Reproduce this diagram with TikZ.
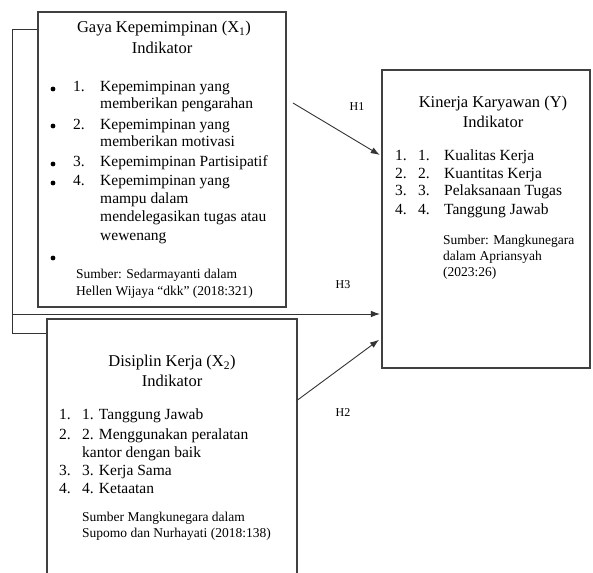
\documentclass[tikz,border=0pt]{standalone}
\usepackage{fontspec}
\setmainfont{Liberation Serif}
\usetikzlibrary{arrows.meta}
\tikzset{
  box/.style={draw=black!75, line width=1.1pt, rectangle, inner sep=0pt},
  ttl/.style={font=\fontsize{16.5}{19}\selectfont, inner sep=0pt},
  itm/.style={font=\fontsize{15.5}{18}\selectfont, anchor=mid west, inner sep=0pt},
  src/.style={font=\fontsize{13.5}{16}\selectfont, anchor=mid west, inner sep=0pt},
  hl/.style={font=\fontsize{12}{14}\selectfont, inner sep=0pt},
  conn/.style={line width=0.9pt, draw=black!80},
  arr/.style={conn, -{Latex[length=9pt,width=6.5pt]}},
  bul/.style={circle, fill=black, inner sep=0pt, minimum size=4.8pt}
}
\begin{document}
\begin{tikzpicture}[x=1pt,y=-1pt]
\useasboundingbox (0,0) rectangle (593,572);
\clip (0,0) rectangle (593,572);
% boxes
\node[box, minimum width=248pt, minimum height=295pt] (X1) at (162,159.5) {};
\node[box, minimum width=250pt, minimum height=281pt] (X2) at (172,459.5) {};
\node[box, minimum width=208pt, minimum height=298pt] (Y) at (486,219) {};
% X1 content
\node[ttl] (x1t) at (164,29) {Gaya Kepemimpinan (X\textsubscript{1})};
\node[ttl] (x1i) at (162,48) {Indikator};
\node[bul] (b1) at (53,89) {};
\node[bul] (b2) at (53,126) {};
\node[bul] (b3) at (53,164) {};
\node[bul] (b4) at (53,183) {};
\node[bul] (b5) at (53,258) {};
\node[itm] (x1n1) at (73,89) {1.};
\node[itm] (x1n2) at (73,127) {2.};
\node[itm] (x1n3) at (73,164) {3.};
\node[itm] (x1n4) at (73,183) {4.};
\node[itm] (x1a) at (100,89) {Kepemimpinan yang};
\node[itm] (x1b) at (100,106) {memberikan pengarahan};
\node[itm] (x1c) at (100,127) {Kepemimpinan yang};
\node[itm] (x1d) at (100,144) {memberikan motivasi};
\node[itm] (x1e) at (100,164) {Kepemimpinan Partisipatif};
\node[itm] (x1f) at (100,183) {Kepemimpinan yang};
\node[itm] (x1g) at (100,201) {mampu dalam};
\node[itm] (x1h) at (100,219) {mendelegasikan tugas atau};
\node[itm] (x1k) at (100,238) {wewenang};
\node[src] (x1s1) at (76,276) {Sumber: Sedarmayanti dalam};
\node[src] (x1s2) at (76,293) {Hellen Wijaya “dkk” (2018:321)};
% Y content
\node[ttl] (yt) at (493,104) {Kinerja Karyawan (Y)};
\node[ttl] (yi) at (493,122) {Indikator};
\node[itm] (yn1) at (395,158) {1.};
\node[itm] (yn2) at (395,176) {2.};
\node[itm] (yn3) at (395,193) {3.};
\node[itm] (yn4) at (395,212) {4.};
\node[itm] (ym1) at (418,158) {1.};
\node[itm] (ym2) at (418,176) {2.};
\node[itm] (ym3) at (418,193) {3.};
\node[itm] (ym4) at (418,212) {4.};
\node[itm] (ya) at (444,158) {Kualitas Kerja};
\node[itm] (yb) at (444,176) {Kuantitas Kerja};
\node[itm] (yc) at (444,193) {Pelaksanaan Tugas};
\node[itm] (yd) at (444,212) {Tanggung Jawab};
\node[src] (ys1) at (443,242) {Sumber: Mangkunegara};
\node[src] (ys2) at (443,258) {dalam Apriansyah};
\node[src] (ys3) at (443,274) {(2023:26)};
% X2 content
\node[ttl] (x2t) at (172,363) {Disiplin Kerja (X\textsubscript{2})};
\node[ttl] (x2i) at (172,381) {Indikator};
\node[itm] (x2n1) at (59,417) {1.};
\node[itm] (x2n2) at (59,437) {2.};
\node[itm] (x2n3) at (59,473) {3.};
\node[itm] (x2n4) at (59,491) {4.};
\node[itm] (x2a) at (82,417) {1. Tanggung Jawab};
\node[itm] (x2b) at (82,437) {2. Menggunakan peralatan};
\node[itm] (x2c) at (82,455) {kantor dengan baik};
\node[itm] (x2d) at (82,473) {3. Kerja Sama};
\node[itm] (x2e) at (82,491) {4. Ketaatan};
\node[src] (x2s1) at (82,519) {Sumber Mangkunegara dalam};
\node[src] (x2s2) at (82,535) {Supomo dan Nurhayati (2018:138)};
% labels
\node[hl] (h1) at (357,107) {H1};
\node[hl] (h3) at (343,285) {H3};
\node[hl] (h2) at (343,413) {H2};
% connectors
\coordinate (c1) at (12,29);
\coordinate (c2) at (12,333);
\coordinate (c3) at (12,314);
\coordinate (s1) at (293,103);
\coordinate (t1) at (0,156);
\coordinate (s2) at (0,400);
\coordinate (t2) at (0,338);
\draw[conn] (X1.west |- c1) -- (c1) -- (c2) -- (X2.west |- c2);
\draw[arr, shorten >=1.5pt] (c3) -- (Y.west |- c3);
\draw[arr, shorten >=2pt] (s1) -- (Y.west |- t1);
\draw[arr, shorten >=3pt] (X2.east |- s2) -- (Y.west |- t2);
\end{tikzpicture}
\end{document}
